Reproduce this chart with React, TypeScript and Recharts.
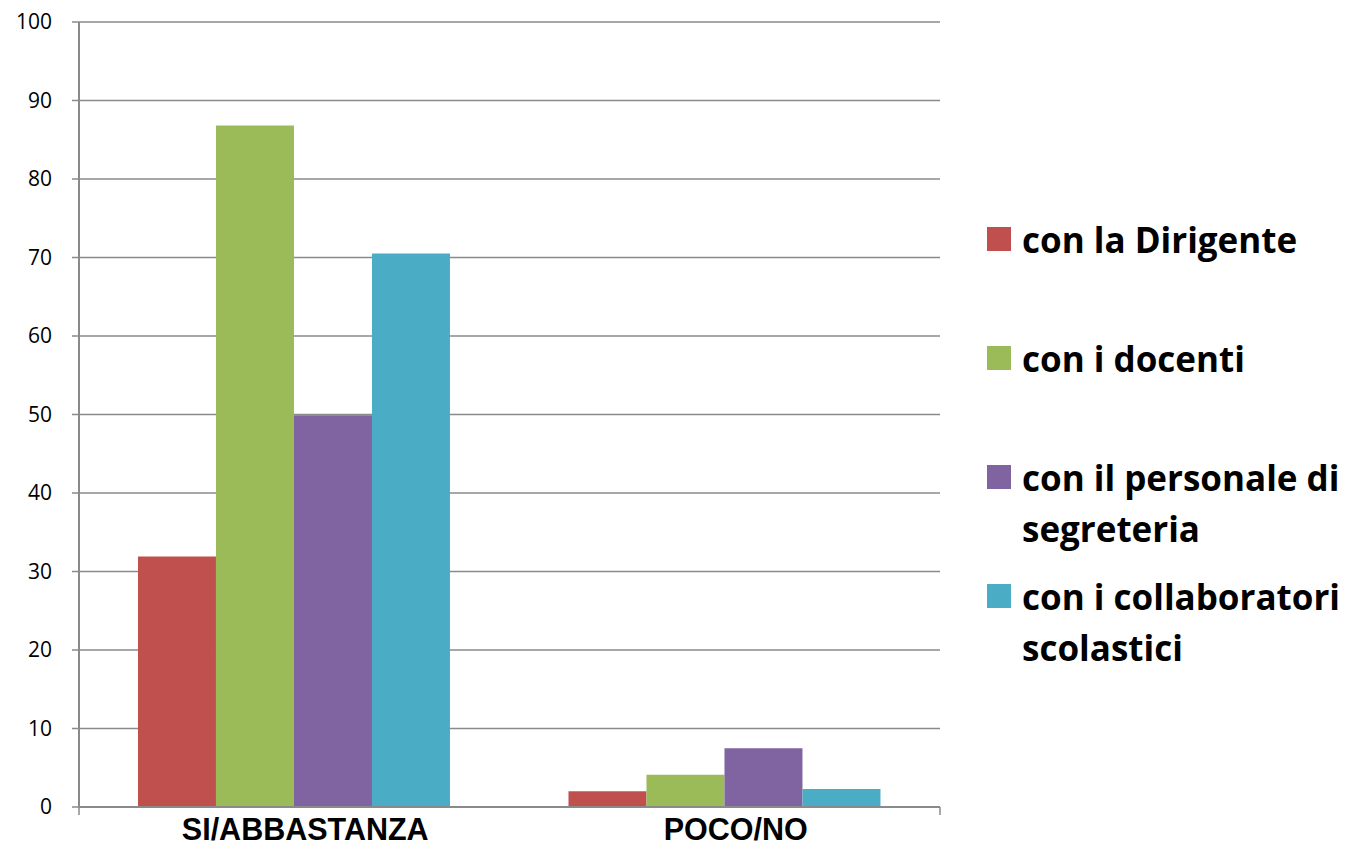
import { Bar, BarChart, CartesianGrid, XAxis, YAxis } from 'recharts';

const categories = ['SI/ABBASTANZA', 'POCO/NO'];
const dirigente = [31.9, 2.0];
const docenti = [86.8, 4.1];
const segreteria = [49.9, 7.5];
const collaboratori = [70.5, 2.3];
const yTicks = [0, 10, 20, 30, 40, 50, 60, 70, 80, 90, 100];
const edgeTicks = [0, 1, 2];

const series = [
  { key: 'dirigente', name: 'con la Dirigente', color: '#C0504D', values: dirigente },
  { key: 'docenti', name: 'con i docenti', color: '#9BBB59', values: docenti },
  { key: 'segreteria', name: 'con il personale di segreteria', color: '#8064A2', values: segreteria },
  { key: 'collaboratori', name: 'con i collaboratori scolastici', color: '#4BACC6', values: collaboratori },
];

const data = categories.map((name, i) => {
  const row: Record<string, string | number> = { name };
  series.forEach((s) => {
    row[s.key] = s.values[i];
  });
  return row;
});

const gray = '#8a8a8a';

function CatTick(props: any) {
  const { x, y, payload } = props;
  return (
    <text
      x={x}
      y={y}
      dx={11}
      dy={25}
      textAnchor="middle"
      fill="#000"
      fontSize={30.5}
      fontWeight="bold"
      fontFamily="Liberation Sans, Arial, sans-serif"
    >
      {payload.value}
    </text>
  );
}

export default function App() {
  return (
    <div style={{ position: 'absolute', left: 0, top: 0, width: 1347, height: 847, background: '#fff' }}>
      <BarChart
        width={1347}
        height={847}
        data={data}
        margin={{ top: 22, right: 407, bottom: 0, left: 0 }}
        barCategoryGap="13.7%"
        barGap={0}
      >
        <CartesianGrid vertical={false} stroke={gray} strokeWidth={1.5} xAxisId="b" />
        <XAxis
          xAxisId="a"
          type="number"
          domain={[0, 2]}
          ticks={edgeTicks}
          allowDataOverflow
          height={8}
          tickSize={8}
          tickFormatter={() => ''}
          axisLine={{ stroke: gray, strokeWidth: 2 }}
          tickLine={{ stroke: gray, strokeWidth: 1.5 }}
        />
        <XAxis
          xAxisId="b"
          dataKey="name"
          height={32}
          axisLine={false}
          tickLine={false}
          tickSize={0}
          tickMargin={0}
          tick={<CatTick />}
        />
        <YAxis
          domain={[0, 100]}
          ticks={yTicks}
          width={79}
          tickSize={7}
          tickMargin={20}
          axisLine={{ stroke: gray, strokeWidth: 2 }}
          tickLine={{ stroke: gray, strokeWidth: 1.5 }}
          tick={{ fill: '#000', fontSize: 21, fontFamily: 'Open Sans, sans-serif' }}
        />
        {series.map((s) => (
          <Bar key={s.key} xAxisId="b" dataKey={s.key} name={s.name} fill={s.color} isAnimationActive={false} />
        ))}
      </BarChart>
      <div style={{ position: 'absolute', left: 987, top: 214, fontFamily: 'Open Sans, sans-serif' }}>
        {series.map((s) => (
          <div key={s.key} style={{ display: 'flex', alignItems: 'flex-start', height: 119 }}>
            <div style={{ width: 24, height: 24, marginTop: 13, background: s.color, flexShrink: 0 }} />
            <div style={{ marginLeft: 11, width: 330, fontSize: 35, fontWeight: 'bold', lineHeight: '51px', color: '#000' }}>
              {s.name}
            </div>
          </div>
        ))}
      </div>
    </div>
  );
}
